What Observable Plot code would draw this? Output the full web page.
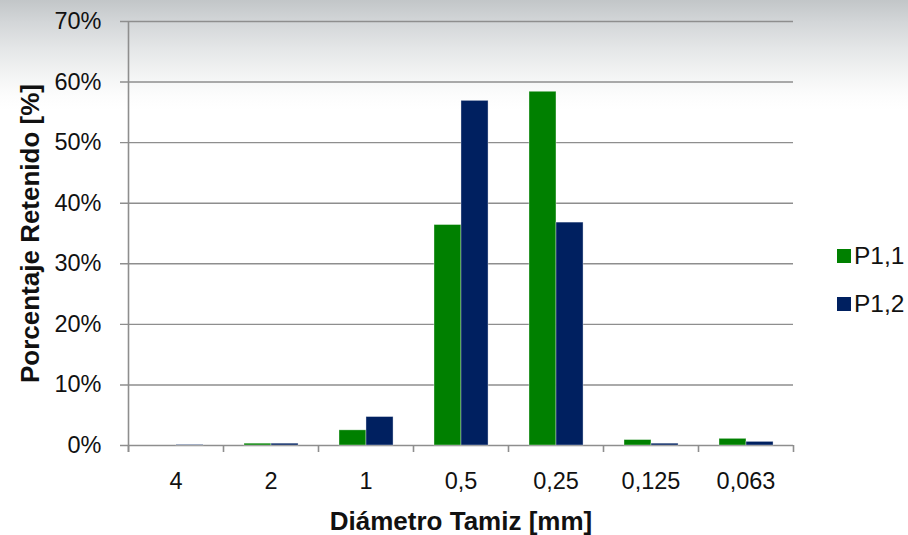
<!DOCTYPE html>
<html>
<head>
<meta charset="utf-8">
<script src="https://cdn.jsdelivr.net/npm/d3@7"></script>
<script src="https://cdn.jsdelivr.net/npm/@observablehq/plot@0.6"></script>
<style>
  html, body { margin: 0; padding: 0; }
  body {
    width: 908px; height: 535px; overflow: hidden;
    background: linear-gradient(to bottom, #c2c6c8 0px, #d3d6d8 22px, #e4e6e7 48px, #f3f4f4 75px, #fcfcfc 95px, #ffffff 110px);
    font-family: "Liberation Sans", Arial, Helvetica, sans-serif;
  }
  #chart { position: relative; width: 908px; height: 535px; }
  #chart svg { display: block; overflow: visible; }
  .legend { position: absolute; left: 0; top: 0; font-size: 24.5px; color: #111; line-height: 1; }
  .legend .item { position: absolute; white-space: nowrap; display: flex; align-items: center; }
  .legend .sw { display: inline-block; width: 14px; height: 14px; margin-right: 3px; }
</style>
</head>
<body>
<div id="chart"></div>
<script>
// Sieve sizes (mm) and percentage retained per sample
const categories = ["4", "2", "1", "0,5", "0,25", "0,125", "0,063"];
const seriesNames = ["P1,1", "P1,2"];
const p11 = [0.000, 0.003, 0.025, 0.364, 0.584, 0.009, 0.011];
const p12 = [0.001, 0.003, 0.047, 0.569, 0.368, 0.003, 0.006];
const yTicks = [0, 0.1, 0.2, 0.3, 0.4, 0.5, 0.6, 0.7];
const colors = ["#008000", "#002060"];

const rows = categories.flatMap((c, i) => [
  {cat: c, series: seriesNames[0], value: p11[i]},
  {cat: c, series: seriesNames[1], value: p12[i]}
]);

const W = 908, H = 535;
const mL = 128, mR = 115, mT = 21, mB = 90;
const bw = (W - mL - mR) / categories.length;
const frameH = H - mT - mB;
const font = "'Liberation Sans', Arial, Helvetica, sans-serif";
const axisGray = "#8e8e8e";
const tickFont = 23.5, titleFont = 26;

// bar placement inside each sieve band (fractions of the band)
const groupStart = 0.221, groupMid = 0.505, groupEnd = 0.79;

const plot = Plot.plot({
  width: W,
  height: H,
  marginLeft: mL,
  marginRight: mR,
  marginTop: mT,
  marginBottom: mB,
  style: {fontFamily: font, fontSize: tickFont + "px", color: "#111", background: "transparent", overflow: "visible"},
  x: {domain: categories, padding: 0},
  y: {domain: [0, 0.7]},
  marks: [
    // horizontal gridlines, extended left as tick marks
    Plot.ruleY(yTicks, {stroke: axisGray, strokeWidth: 1.4, insetLeft: -8}),
    // bars
    Plot.barY(rows.filter(d => d.series === seriesNames[0]), {
      x: "cat", y: "value", fill: colors[0],
      stroke: "#ffffff", strokeOpacity: 0.45, strokeWidth: 0.8,
      insetLeft: bw * groupStart, insetRight: bw * (1 - groupMid)
    }),
    Plot.barY(rows.filter(d => d.series === seriesNames[1]), {
      x: "cat", y: "value", fill: colors[1],
      stroke: "#ffffff", strokeOpacity: 0.45, strokeWidth: 0.8,
      insetLeft: bw * groupMid, insetRight: bw * (1 - groupEnd)
    }),
    // category boundary ticks below the baseline
    Plot.ruleX(categories, {x: d => d, dx: -bw / 2, insetTop: frameH, insetBottom: -7, stroke: axisGray, strokeWidth: 1.6}),
    Plot.ruleX(categories.slice(-1), {x: d => d, dx: bw / 2, insetTop: frameH, insetBottom: -7, stroke: axisGray, strokeWidth: 1.6}),
    // vertical axis line
    Plot.ruleX(categories.slice(0, 1), {x: d => d, dx: -bw / 2, insetBottom: -7, stroke: axisGray, strokeWidth: 1.6}),
    // tick labels
    Plot.axisX({tickSize: 0, tickPadding: 27, label: null, fontSize: tickFont, fill: "#111"}),
    Plot.axisY(yTicks, {tickSize: 0, tickPadding: 27, label: null, tickFormat: d3.format(".0%"), fontSize: tickFont, fill: "#111"}),
    // axis titles
    Plot.text(["Diámetro Tamiz [mm]"], {frameAnchor: "bottom", dy: 76, fontWeight: "bold", fontSize: titleFont, fill: "#111", lineAnchor: "middle"}),
    Plot.text(["Porcentaje Retenido [%]"], {frameAnchor: "left", dx: -98, rotate: -90, textAnchor: "middle", fontWeight: "bold", fontSize: titleFont, fill: "#111", lineAnchor: "middle"})
  ]
});

const chart = document.getElementById("chart");
chart.appendChild(plot);

// legend to the right of the plot
const legend = document.createElement("div");
legend.className = "legend";
const legendCenters = [256, 304];
seriesNames.forEach((name, i) => {
  const item = document.createElement("div");
  item.className = "item";
  item.style.left = "837px";
  item.style.top = (legendCenters[i] - 12) + "px";
  item.style.height = "24px";
  const sw = document.createElement("span");
  sw.className = "sw";
  sw.style.background = colors[i];
  item.appendChild(sw);
  item.appendChild(document.createTextNode(name));
  legend.appendChild(item);
});
chart.appendChild(legend);
</script>
</body>
</html>
